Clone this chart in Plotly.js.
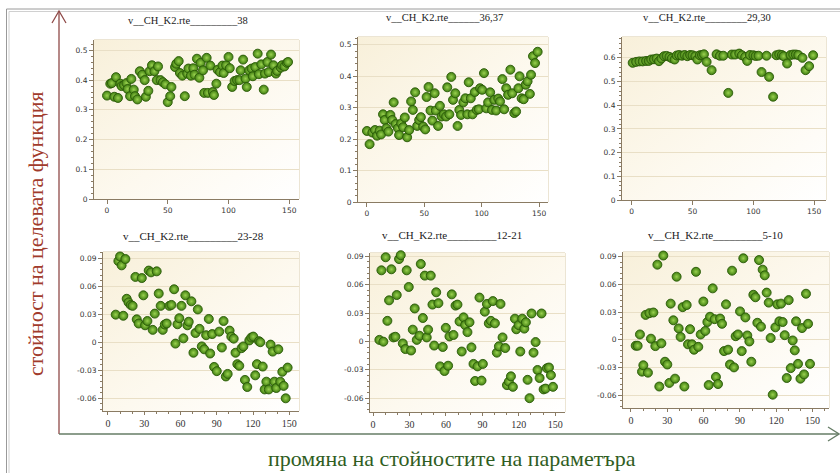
<!DOCTYPE html>
<html>
<head>
<meta charset="utf-8">
<script src="https://cdn.plot.ly/plotly-3.0.1.min.js"></script>
<style>
  html, body { margin: 0; padding: 0; background: #ffffff; }
  #chart { width: 840px; height: 473px; }
</style>
</head>
<body>
<div id="chart"></div>
<script>
// ---- sensitivity runs: objective value vs. parameter change ----

const titles = [
  'v__CH_K2.rte_________38',
  'v__CH_K2.rte______36,37',
  'v__CH_K2.rte________29,30',
  'v__CH_K2.rte_________23-28',
  'v__CH_K2.rte_________12-21',
  'v__CH_K2.rte_________5-10'
];

const x1 = [0,2.7,4,6,7.4,9,11,12,14,16,17,19,20,22,23,25,27,29,31,32,34,35,37,39,41,42,44,46,48,50,52,53,56,57,59,60,62,64,66,67,69,71,72,74,76,77,79,80,82,83,85,87,88,90,91,93,95,96,98,100,101,103,105,107,109,110,112,114,115,117,119,120,122,124,125,127,129,130,132,133,135,137,139,140,143,144,146,148,149];
const y1 = [0.348,0.388,0.39,0.344,0.41,0.34,0.388,0.38,0.383,0.39,0.37,0.346,0.404,0.368,0.346,0.335,0.43,0.418,0.40,0.344,0.364,0.43,0.45,0.43,0.40,0.446,0.40,0.393,0.386,0.326,0.346,0.377,0.444,0.455,0.464,0.424,0.415,0.346,0.422,0.439,0.415,0.44,0.418,0.472,0.408,0.458,0.433,0.357,0.475,0.357,0.449,0.36,0.35,0.388,0.435,0.427,0.449,0.424,0.45,0.478,0.44,0.377,0.397,0.40,0.40,0.433,0.469,0.405,0.377,0.433,0.439,0.413,0.444,0.489,0.42,0.453,0.368,0.422,0.461,0.427,0.486,0.45,0.422,0.431,0.442,0.45,0.446,0.458,0.461];

const x2 = [0,2.3,4.7,7,8.8,11,12.3,14,15.5,17,18.7,20.4,22,23.3,25,27,28,29.8,31.5,33,35,36.8,38.5,40,42,43.8,45.5,47,49,50.8,52,53.7,55.4,57,59,60,62,63.6,65,67,69,70,71.8,73.5,75,77,79,80.5,82,84,85.8,87.5,88.7,90.5,92,94,95.7,97.5,98.6,100.4,102,104,105.6,107.4,109,111,112.6,114.4,116,118,119.6,121.4,123,125,126.6,128.4,130,132,133,134.8,136.6,138.4,140,142,143,144.7,146.5,148.8];
const y2 = [0.226,0.184,0.221,0.229,0.211,0.227,0.215,0.279,0.261,0.235,0.224,0.277,0.261,0.317,0.248,0.235,0.213,0.25,0.238,0.269,0.206,0.229,0.32,0.293,0.349,0.242,0.261,0.27,0.24,0.231,0.334,0.366,0.291,0.259,0.346,0.291,0.242,0.306,0.272,0.279,0.272,0.365,0.279,0.398,0.325,0.346,0.242,0.293,0.277,0.317,0.33,0.279,0.381,0.33,0.279,0.35,0.293,0.295,0.362,0.357,0.41,0.298,0.317,0.349,0.293,0.325,0.291,0.329,0.32,0.391,0.295,0.362,0.341,0.421,0.346,0.283,0.288,0.362,0.40,0.33,0.327,0.373,0.384,0.344,0.405,0.464,0.442,0.478];

const x3 = [0.8,3.6,6.3,9,11.8,14,16,18.3,20.5,22.4,24.4,26.6,28.7,31,33,35.3,37,39,41.3,43.5,45.7,48,50,52.3,54,56,57.8,59.4,61.6,65.7,69.8,72.5,75.3,79.4,82.4,85,88.4,90.6,93.3,95,97.2,100,102,104.3,106.8,110.9,113,116.3,119,121.3,123.5,125,127.8,130.6,132.8,135,137,140.4,143,145.9,149.2];
const y3 = [0.579,0.583,0.585,0.585,0.587,0.587,0.593,0.594,0.597,0.586,0.597,0.607,0.608,0.604,0.598,0.593,0.61,0.612,0.609,0.612,0.607,0.612,0.611,0.607,0.593,0.611,0.612,0.615,0.583,0.548,0.615,0.609,0.609,0.452,0.614,0.614,0.618,0.611,0.604,0.587,0.612,0.611,0.608,0.609,0.54,0.609,0.52,0.436,0.611,0.614,0.612,0.607,0.576,0.612,0.614,0.614,0.612,0.60,0.548,0.565,0.611];

const x4 = [6.4,8.6,10,11.3,12.7,14.4,15.5,17,18.8,20.4,22.7,23.8,25.4,28,29.3,30.7,32.6,33.7,35.6,37,38.7,40.3,42,43.6,45.3,47,48.6,50.8,52.5,54.7,55.8,57.5,59,60.8,62.4,64,65.7,66.8,69,70.7,72.4,74.3,75.7,77.6,79.6,81.2,83.4,84.5,86.2,87.8,90,92,94.2,95.6,97.5,99,100.6,102,104,105.5,107,108.6,110.5,112,113.3,115.2,116.9,118.5,120.2,121.8,123.2,124.9,126,128,129.6,131,133,134.5,136.2,137.6,139.2,140.9,142.5,144.2,145.3,147,148.6];
const y4 = [0.0296,0.087,0.0919,0.0824,0.0284,0.0892,0.0466,0.0428,0.04,0.039,0.07,0.0246,0.0201,0.0688,0.0503,0.0182,0.0228,0.0768,0.0749,0.0133,0.0307,0.076,0.0522,0.039,0.0133,0.019,0.0201,0.039,0.04,0.0568,-0.0014,0.0193,0.0258,0.039,0.0042,0.0503,0.0182,0.022,0.0439,-0.0112,0.0099,0.0352,0.0144,-0.0044,-0.0075,0.0076,0.025,-0.012,0.0088,-0.0264,-0.0309,0.0114,-0.0056,0.0228,-0.0366,-0.0339,0.0125,0.0061,0.0039,-0.0112,-0.0234,-0.0252,-0.0063,-0.0044,-0.0403,-0.0479,0.002,0.005,0.0061,-0.0354,-0.0234,0.0012,0.0001,-0.026,-0.0505,-0.0422,-0.0505,-0.0025,-0.01,-0.0422,-0.049,-0.0075,-0.0422,-0.0316,-0.0467,-0.06,-0.0271];

const x5 = [5.2,6.9,8.5,10.4,11.8,13.2,15.1,16.8,18.4,19.5,21.4,22.8,24.5,26.6,27.7,29.4,31.3,32.7,34.3,36,38.2,39.3,41,42.6,44.2,45.3,47.5,48.9,50.3,52,53.8,55.2,57.4,58.8,59.9,61.8,62.9,64.8,66.2,67.9,69.5,71.2,73,74.5,75.8,77.7,79.4,81,82.7,84,86,87.6,89.3,90.4,92,93.7,95.3,97,98.6,100.3,101.9,103.6,104.9,106.6,108.8,110.2,111.8,113.5,115.1,116.8,117.9,119.8,121.2,122.8,124.5,125.8,127.2,128.8,130.5,132.1,133.8,135.4,137.1,138.7,140.4,142,143.1,144.8,146.4,148.1];
const y5 = [0.0016,0.0751,-0.0003,0.0889,0.0217,0.0434,0.0762,0.0042,0.0049,0.049,0.087,0.0911,-0.0022,-0.0081,0.0751,0.0575,-0.0096,0.0124,0.0348,0.0016,0.006,0.0818,0.0247,0.0695,0.0042,0.0124,0.0695,0.0389,-0.0044,0.0519,0.0404,-0.0264,-0.0059,-0.0313,0.0143,-0.0257,0.0053,0.0497,0.0068,0.0378,0.0389,0.021,-0.0107,0.0254,0.0172,0.0098,0.0202,-0.0063,-0.0238,-0.0418,-0.0264,0.0463,-0.0414,-0.0238,0.0314,0.0396,0.0191,0.0217,0.0426,0.0191,-0.0119,-0.0052,0.0396,0.0042,-0.007,-0.0462,-0.0425,-0.0369,-0.048,0.024,0.0128,0.0172,-0.0107,0.024,0.0135,0.0202,-0.0406,-0.06,0.0295,-0.0119,-0.0007,-0.0302,-0.0387,0.0295,-0.0507,-0.0499,-0.0283,-0.0276,-0.0357,-0.048];

const x6 = [3.9,5.5,7.4,9.1,10.2,12.1,14,15.2,16.5,18.5,20.1,21.8,23.4,25.1,26.7,28.1,30,31.7,32.8,35,36.4,37.7,39.4,41,42.7,44.1,46,47.1,48.8,50.4,52.1,53.7,55.6,57.6,59.8,61.4,63.1,64.2,65.3,67.5,69.1,70.2,71.9,73.6,75.2,76.9,78.5,80.2,81.8,83.5,85.1,86.5,88.4,90.1,91.5,92.8,94.5,96.1,97.8,99.4,101.1,102.8,104.4,105.8,107.4,108.8,110.5,112.1,113.8,115.4,117.1,119.3,120.9,122.6,124,125.3,127,128.7,130.3,132,133.6,135.3,136.4,138,140,141.3,143,144.6,146.3,147.9];
const y6 = [-0.0064,-0.0064,0.0058,-0.0344,-0.0275,0.0269,-0.0355,0.0288,0.0012,0.0295,-0.0068,0.0812,-0.0505,-0.0038,0.0911,-0.0237,-0.0267,-0.0466,0.0391,0.0211,-0.042,0.0682,0.0123,0.0031,0.0353,-0.0505,0.0376,-0.0049,0.0115,-0.0049,-0.0107,0.0735,-0.0076,0.0058,0.0414,0.0096,0.0192,-0.0489,0.0249,0.0556,0.0223,-0.0401,-0.0478,0.023,0.0173,-0.0122,0.0383,-0.0107,-0.0267,0.0747,-0.0298,0.0039,0.0058,0.0307,-0.0122,0.0881,0.0242,0.0047,-0.0018,-0.0237,0.0487,0.046,0.0184,0.0862,0.0142,0.0758,0.0697,0.051,0.0402,0.002,-0.0593,0.0135,0.0383,0.02,0.0391,0.0192,0.005,-0.0413,0.0429,-0.0306,-0.0007,-0.0114,0.02,-0.026,-0.042,0.0127,-0.0374,0.0498,0.0173,-0.026];

const topXTicks = [0, 50, 100, 150];
const topXLabels = ['0', '50', '100', '150'];
const topYTicks = [0, 0.1, 0.2, 0.3, 0.4, 0.5];
const topYLabels = ['0', '0.1', '0.2', '0.3', '0.4', '0.5'];
const topYTicks3 = [0, 0.1, 0.2, 0.3, 0.4, 0.5, 0.6];
const topYLabels3 = ['0', '0.1', '0.2', '0.3', '0.4', '0.5', '0.6'];
const botXTicks = [0, 30, 60, 90, 120, 150];
const botXLabels = ['0', '30', '60', '90', '120', '150'];
const botYTicks = [-0.06, -0.03, 0, 0.03, 0.06, 0.09];
const botYLabels = ['-0.06', '-0.03', '0', '0.03', '0.06', '0.09'];

const yAxisLabel = 'стойност на целевата функция';
const xAxisLabel = 'промяна на стойностите на параметъра';

// ---- page geometry (pixels on an 840 x 473 sheet) ----
const W = 840, H = 473;
const fx = p => p / W;
const fy = p => 1 - p / H;

const panels = [
  { x: x1, y: y1, box: [94, 299, 40, 199],  xr: [-10.7, 158],  yr: [0, 0.535],         xt: topXTicks, xl: topXLabels, yt: topYTicks,  yl: topYLabels,  ym: 0.02,  top: true,  tpos: [188, 20] },
  { x: x2, y: y2, box: [358, 548, 37, 202], xr: [-7.8, 157.8],  yr: [0, 0.525],         xt: topXTicks, xl: topXLabels, yt: topYTicks,  yl: topYLabels,  ym: 0.02,  top: true,  tpos: [444, 18] },
  { x: x3, y: y3, box: [622, 826, 37, 200], xr: [-8, 159.8],    yr: [0, 0.688],         xt: topXTicks, xl: topXLabels, yt: topYTicks3, yl: topYLabels3, ym: 0.02,  top: true,  tpos: [707, 18] },
  { x: x4, y: y4, box: [103, 299, 252, 411], xr: [-4.1, 158],   yr: [-0.0736, 0.0967],  xt: botXTicks, xl: botXLabels, yt: botYTicks,  yl: botYLabels,  ym: 0.006, top: false, tpos: [193, 236] },
  { x: x5, y: y5, box: [370, 565, 253, 412], xr: [-2.5, 158],   yr: [-0.0746, 0.0934],  xt: botXTicks, xl: botXLabels, yt: botYTicks,  yl: botYLabels,  ym: 0.006, top: false, tpos: [452, 235] },
  { x: x6, y: y6, box: [623, 829, 252, 408], xr: [-6.6, 163.6], yr: [-0.0737, 0.0949],  xt: botXTicks, xl: botXLabels, yt: botYTicks,  yl: botYLabels,  ym: 0.006, top: false, tpos: [715, 235] }
];

// cream panel background, slightly warmer in the upper-left corner
const bgSvg = '<svg xmlns="http://www.w3.org/2000/svg" width="100" height="100" viewBox="0 0 100 100" preserveAspectRatio="none">' +
  '<defs><linearGradient id="g" x1="0" y1="0" x2="1" y2="1">' +
  '<stop offset="0" stop-color="#f8f0da"/><stop offset="0.55" stop-color="#fdf9ef"/><stop offset="1" stop-color="#ffffff"/>' +
  '</linearGradient></defs><rect width="100" height="100" fill="url(#g)"/></svg>';
const bgSrc = 'data:image/svg+xml;charset=utf-8,' + encodeURIComponent(bgSvg);

const axisCol = '#8a7b63';
const frameCol = '#d9cba9';
const gridCol = '#e9dfc6';

const traces = [];
const layout = {
  width: W, height: H,
  margin: { l: 0, r: 0, t: 0, b: 0 },
  paper_bgcolor: '#ffffff',
  plot_bgcolor: 'rgba(0,0,0,0)',
  showlegend: false,
  hovermode: false,
  annotations: [],
  shapes: [],
  images: []
};

panels.forEach((p, i) => {
  const n = i === 0 ? '' : String(i + 1);
  const xa = 'x' + n, ya = 'y' + n;

  traces.push({
    type: 'scatter', mode: 'markers',
    x: p.x, y: p.y,
    xaxis: xa, yaxis: ya,
    cliponaxis: false,
    marker: {
      size: 9,
      color: '#3f7e10',
      gradient: { type: 'radial', color: '#9ad24f' },
      line: { color: '#2a5a08', width: 0.9 }
    }
  });

  const tickFontTop = { family: 'DejaVu Sans, Verdana, sans-serif', size: 7.5, color: '#333333' };
  const tickFontBotX = { family: 'Liberation Serif, Times New Roman, serif', size: 10, color: '#333333' };

  layout['xaxis' + n] = {
    domain: [fx(p.box[0]), fx(p.box[1])],
    anchor: ya,
    range: p.xr,
    tickmode: 'array', tickvals: p.xt, ticktext: p.xl,
    ticks: 'outside', ticklen: p.top ? 4 : 3, tickcolor: axisCol, tickwidth: 1,
    showline: true, linecolor: axisCol, linewidth: 1,
    showgrid: false, zeroline: false, fixedrange: true,
    tickfont: p.top ? tickFontTop : tickFontBotX,
    minor: p.top ? undefined : { dtick: 10, tick0: 0, ticks: 'outside', ticklen: 2, tickcolor: axisCol, showgrid: false }
  };
  layout['yaxis' + n] = {
    domain: [fy(p.box[3]), fy(p.box[2])],
    anchor: xa,
    range: p.yr,
    tickmode: 'array', tickvals: p.yt, ticktext: p.yl,
    ticks: 'outside', ticklen: 4, tickcolor: axisCol, tickwidth: 1,
    showline: true, linecolor: axisCol, linewidth: 1,
    showgrid: true, gridcolor: gridCol, gridwidth: 1,
    zeroline: false, fixedrange: true,
    tickfont: tickFontTop,
    minor: { dtick: p.ym, tick0: 0, ticks: 'outside', ticklen: 2, tickcolor: axisCol, showgrid: false }
  };

  layout.images.push({
    source: bgSrc, xref: xa + ' domain', yref: ya + ' domain',
    x: 0, y: 1, sizex: 1, sizey: 1, xanchor: 'left', yanchor: 'top',
    sizing: 'stretch', layer: 'below'
  });

  layout.shapes.push({
    type: 'rect', xref: xa + ' domain', yref: ya + ' domain',
    x0: 0, x1: 1, y0: 0, y1: 1,
    line: { color: frameCol, width: 1 }, layer: 'below'
  });

  layout.annotations.push({
    text: titles[i], xref: 'paper', yref: 'paper',
    x: fx(p.tpos[0]), y: fy(p.tpos[1]), xanchor: 'center', yanchor: 'middle',
    showarrow: false,
    font: { family: 'Liberation Serif, Times New Roman, serif', size: p.top ? 10.5 : 11, color: '#1a1a1a' }
  });
});

// outer sheet border (double hairline)
layout.shapes.push(
  { type: 'path', xref: 'paper', yref: 'paper', path: `M ${fx(6.5)} ${fy(473)} L ${fx(6.5)} ${fy(9)} L ${fx(840)} ${fy(9)}`, line: { color: '#9a9a9a', width: 1 } },
  { type: 'path', xref: 'paper', yref: 'paper', path: `M ${fx(9)} ${fy(473)} L ${fx(9)} ${fy(11.5)} L ${fx(840)} ${fy(11.5)}`, line: { color: '#d0d0d0', width: 1 } }
);

// value axis arrow (vertical, red-brown) and parameter axis arrow (horizontal, grey-green)
const redCol = '#8f4a48';
const greenCol = '#667d66';
const baseY = 434;
layout.shapes.push(
  { type: 'line', xref: 'paper', yref: 'paper', x0: fx(59), y0: fy(baseY), x1: fx(59), y1: fy(11), line: { color: redCol, width: 1.3 } },
  { type: 'path', xref: 'paper', yref: 'paper', path: `M ${fx(52)} ${fy(23)} L ${fx(59)} ${fy(11)} L ${fx(66)} ${fy(23)}`, line: { color: redCol, width: 1.3 } },
  { type: 'line', xref: 'paper', yref: 'paper', x0: fx(59), y0: fy(baseY), x1: fx(839), y1: fy(baseY), line: { color: greenCol, width: 1.3 } },
  { type: 'path', xref: 'paper', yref: 'paper', path: `M ${fx(828)} ${fy(baseY - 7)} L ${fx(839)} ${fy(baseY)} L ${fx(828)} ${fy(baseY + 7)}`, line: { color: greenCol, width: 1.3 } }
);

layout.annotations.push(
  {
    text: yAxisLabel, xref: 'paper', yref: 'paper',
    x: fx(35), y: fy(234), xanchor: 'center', yanchor: 'middle', textangle: -90,
    showarrow: false,
    font: { family: 'Liberation Serif, Times New Roman, serif', size: 22, color: '#a13b2c' }
  },
  {
    text: xAxisLabel, xref: 'paper', yref: 'paper',
    x: fx(452), y: fy(458), xanchor: 'center', yanchor: 'middle',
    showarrow: false,
    font: { family: 'Liberation Serif, Times New Roman, serif', size: 22, color: '#2f5d22' }
  }
);

Plotly.newPlot('chart', traces, layout, { staticPlot: true, displayModeBar: false });
</script>
</body>
</html>
